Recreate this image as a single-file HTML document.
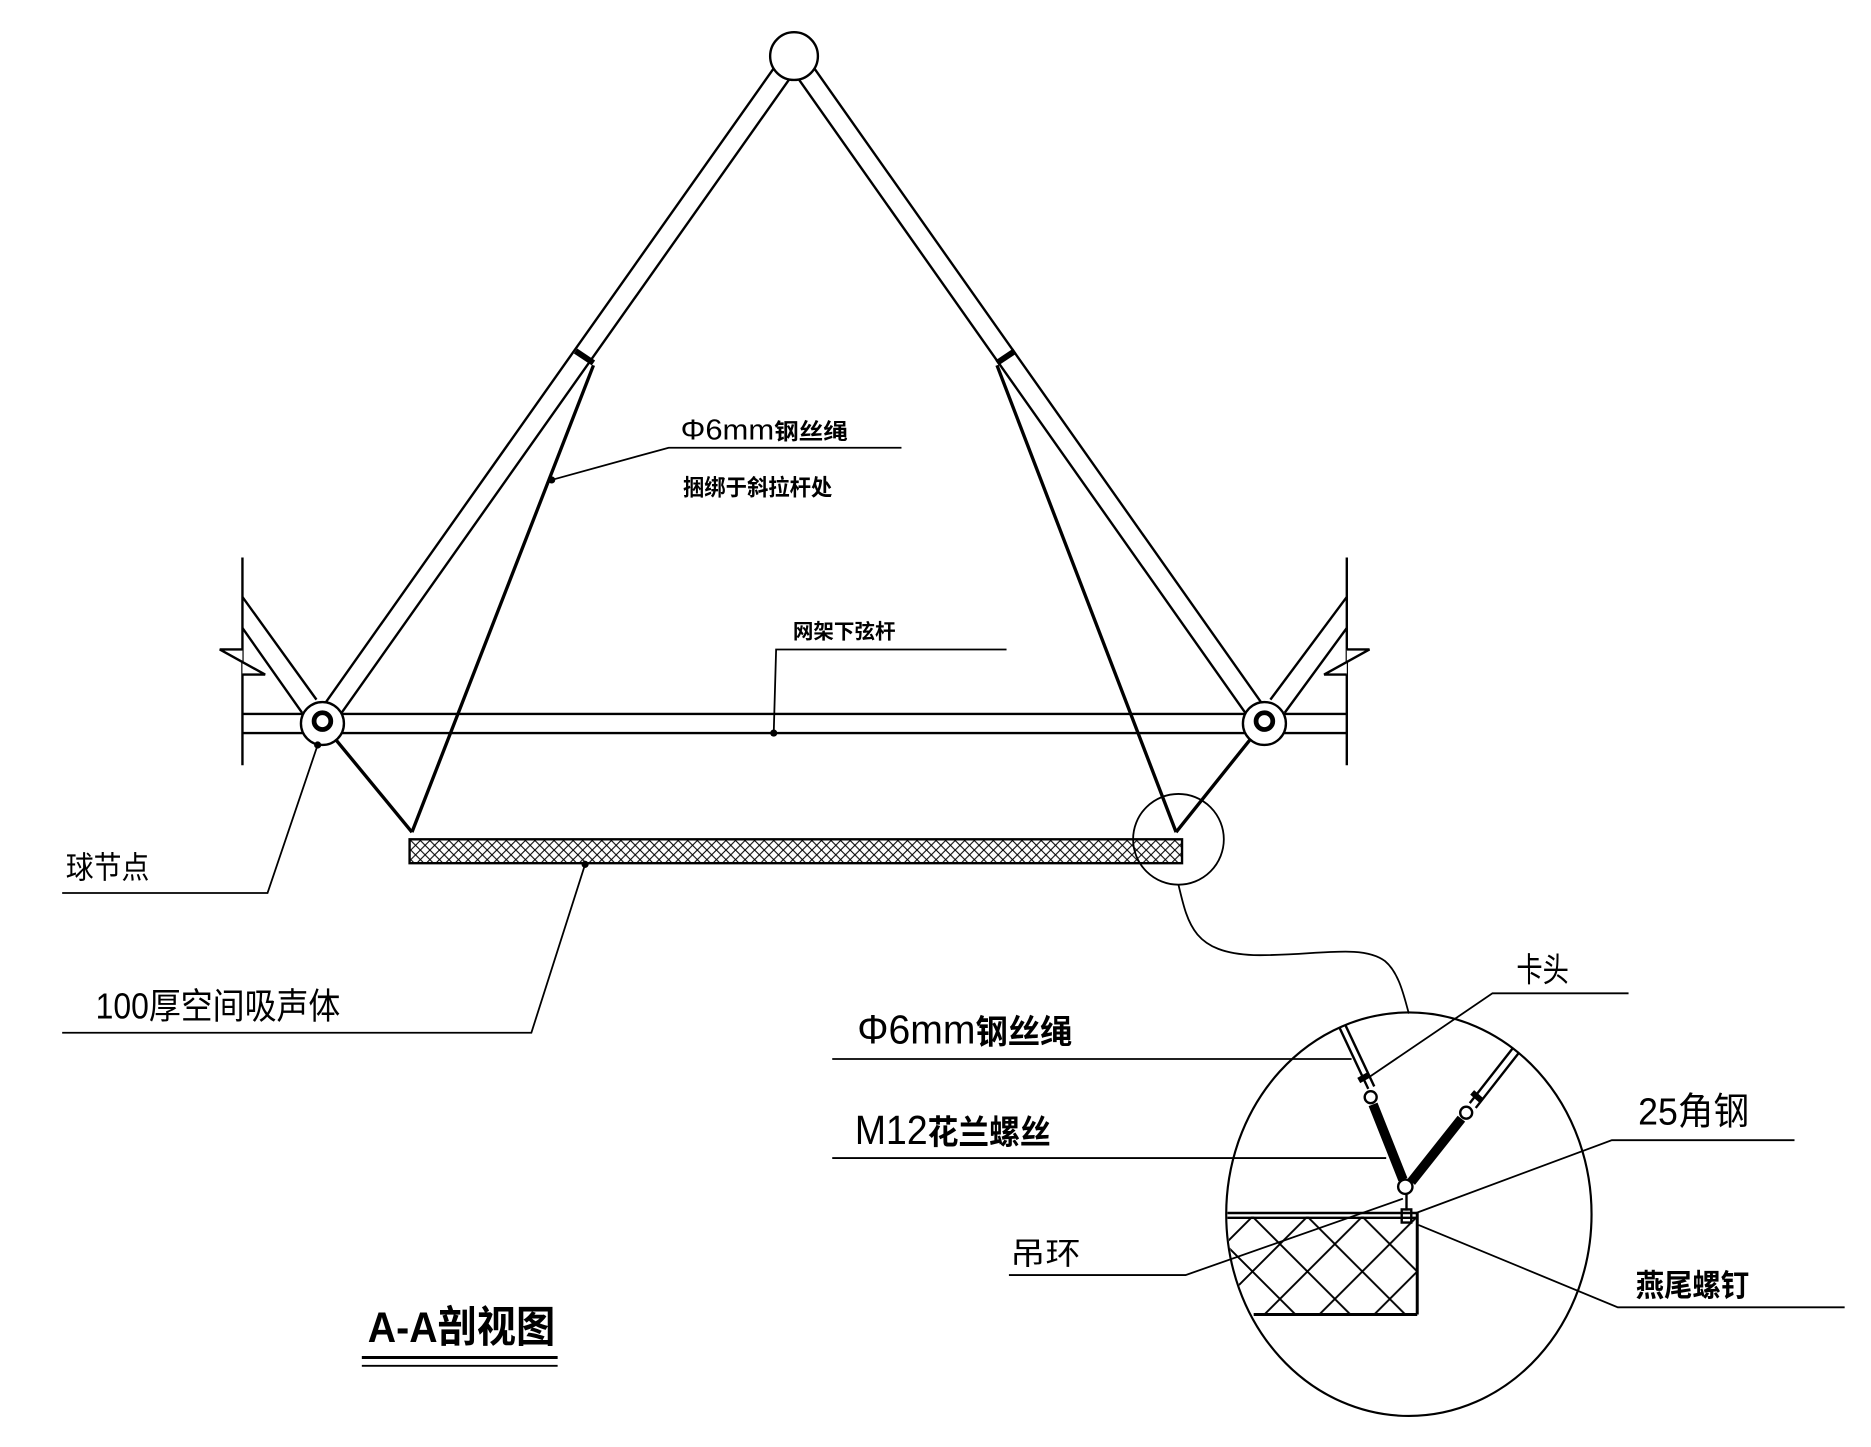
<!DOCTYPE html>
<html><head><meta charset="utf-8"><style>
html,body{margin:0;padding:0;background:#fff;}
svg{display:block;}
text{font-family:"Liberation Sans","Noto Sans CJK SC",sans-serif;fill:#000;}
</style></head><body>
<svg width="1871" height="1447" viewBox="0 0 1567 1212" xmlns="http://www.w3.org/2000/svg">
<defs>
<pattern id="hx" width="8" height="8" patternUnits="userSpaceOnUse">
<path d="M0,0 L8,8 M8,0 L0,8" stroke="#000" stroke-width="0.9"/>
</pattern>
<pattern id="hx2" x="1187" y="1019" width="46" height="46" patternUnits="userSpaceOnUse">
<path d="M0,0 L46,46 M46,0 L0,46" stroke="#000" stroke-width="1.6"/>
</pattern>
<clipPath id="ell"><ellipse cx="1180" cy="1017" rx="152" ry="168"/></clipPath>
</defs>
<g stroke="#000" fill="none" stroke-width="2">
<line x1="203" y1="467" x2="203" y2="641"/>
<polyline points="203,544 184,544 222,565 203,565" fill="#fff"/>
<line x1="1128" y1="467" x2="1128" y2="641"/>
<polyline points="1128,544 1147,544 1109,565 1128,565" fill="#fff"/>
<line x1="203" y1="500" x2="265" y2="586"/>
<line x1="203" y1="526" x2="253" y2="597"/>
<line x1="1128" y1="500" x2="1064" y2="586"/>
<line x1="1128" y1="526" x2="1076" y2="597"/>
<line x1="203" y1="598" x2="1128" y2="598"/>
<line x1="203" y1="614" x2="1128" y2="614"/>
<line x1="671.5" y1="51.6" x2="276.5" y2="610.6"/>
<line x1="658.5" y1="42.4" x2="263.5" y2="601.4"/>
<line x1="658.5" y1="51.6" x2="1052.5" y2="610.6"/>
<line x1="671.5" y1="42.4" x2="1065.5" y2="601.4"/>
<line x1="482" y1="294" x2="497" y2="304" stroke-width="5"/>
<line x1="850" y1="294" x2="835" y2="304" stroke-width="5"/>
<g stroke-width="2.8">
<line x1="275" y1="612" x2="345" y2="697"/>
<line x1="497" y1="306" x2="345" y2="697"/>
<line x1="1053" y1="612" x2="985" y2="697"/>
<line x1="835" y1="306" x2="985" y2="697"/>
</g>
<circle cx="665" cy="47" r="20" fill="#fff"/>
<circle cx="270" cy="606" r="18" fill="#fff"/>
<circle cx="270" cy="604" r="7" stroke-width="4"/>
<circle cx="1059" cy="606" r="18" fill="#fff"/>
<circle cx="1059" cy="604" r="7" stroke-width="4"/>
<rect x="343" y="703" width="647" height="20" fill="url(#hx)"/>
<g stroke-width="1.5">
<polyline points="462,402 560,375 755,375"/>
<polyline points="648,614 650,544 843,544"/>
<polyline points="490,724 445,865 52,865"/>
<polyline points="266,624 224,748 52,748"/>
</g>
<circle cx="987" cy="703" r="38" stroke-width="1.5"/>
<path d="M987,741 C995,775 1000,798 1050,800 C1100,801 1140,790 1160,805 C1172,815 1176,835 1180,849" stroke-width="1.5"/>
<ellipse cx="1180" cy="1017" rx="153" ry="169" stroke-width="1.8"/>
<g clip-path="url(#ell)">
<rect x="1020" y="1019" width="167" height="82" fill="url(#hx2)" stroke="none"/>
<line x1="1020" y1="1016" x2="1187" y2="1016"/>
<line x1="1020" y1="1020" x2="1187" y2="1020"/>
<line x1="1187" y1="1016" x2="1187" y2="1101" stroke-width="2.5"/>
<line x1="1050" y1="1101" x2="1187" y2="1101" stroke-width="2.5"/>
</g>
<line x1="1122" y1="861" x2="1146" y2="912" stroke-width="2"/>
<line x1="1127" y1="859" x2="1151" y2="910" stroke-width="2"/>
<line x1="1267" y1="878" x2="1231" y2="924" stroke-width="2"/>
<line x1="1272" y1="882" x2="1236" y2="928" stroke-width="2"/>
<line x1="1138" y1="905" x2="1147" y2="900" stroke-width="5"/>
<line x1="1233" y1="915" x2="1241" y2="922" stroke-width="5"/>
<circle cx="1148" cy="919" r="5"/>
<circle cx="1228" cy="932" r="5"/>
<line x1="1150" y1="925" x2="1175" y2="988" stroke-width="8"/>
<line x1="1224" y1="937" x2="1182" y2="990" stroke-width="8"/>
<circle cx="1177" cy="994" r="6" fill="#fff"/>
<line x1="1178" y1="1000" x2="1178" y2="1014"/>
<rect x="1174" y="1013" width="8" height="11" stroke-width="2"/>
<g stroke-width="1.5">
<polyline points="1147,902 1250,832 1364,832"/>
<polyline points="697,887 1132,887"/>
<polyline points="697,970 1161,970"/>
<polyline points="1186,1016 1350,955 1503,955"/>
<polyline points="1175,1004 993,1068 845,1068"/>
<polyline points="1188,1026 1355,1095 1545,1095"/>
<line x1="303" y1="1137" x2="467" y2="1137" stroke-width="2.5"/>
<line x1="303" y1="1144" x2="467" y2="1144"/>
</g>
</g>
<g fill="#000">
<circle cx="462" cy="402" r="3"/><circle cx="648" cy="614" r="3"/>
<circle cx="490" cy="724" r="3"/><circle cx="266" cy="624" r="3"/>
</g>
<text x="570" y="368" font-size="24" textLength="140" lengthAdjust="spacingAndGlyphs">Φ6mm<tspan font-weight="bold" font-size="19">钢丝绳</tspan></text>
<text x="572" y="415" font-size="19" font-weight="bold" textLength="125" lengthAdjust="spacingAndGlyphs">捆绑于斜拉杆处</text>
<text x="664" y="535" font-size="17" font-weight="bold" textLength="86" lengthAdjust="spacingAndGlyphs">网架下弦杆</text>
<text x="55" y="736" font-size="26" textLength="70" lengthAdjust="spacingAndGlyphs">球节点</text>
<text x="80" y="853" font-size="30" textLength="205" lengthAdjust="spacingAndGlyphs">100厚空间吸声体</text>
<text x="1270" y="822" font-size="28" textLength="44" lengthAdjust="spacingAndGlyphs">卡头</text>
<text x="718" y="874" font-size="34" textLength="180" lengthAdjust="spacingAndGlyphs">Φ6mm<tspan font-weight="bold" font-size="28">钢丝绳</tspan></text>
<text x="716" y="958" font-size="34" textLength="164" lengthAdjust="spacingAndGlyphs">M12<tspan font-weight="bold" font-size="28">花兰螺丝</tspan></text>
<text x="1372" y="942" font-size="32" textLength="93" lengthAdjust="spacingAndGlyphs">25角钢</text>
<text x="846" y="1059" font-size="26" textLength="59" lengthAdjust="spacingAndGlyphs">吊环</text>
<text x="1370" y="1086" font-size="26" font-weight="bold" textLength="95" lengthAdjust="spacingAndGlyphs">燕尾螺钉</text>
<text x="308" y="1124" font-size="36" font-weight="bold" textLength="157" lengthAdjust="spacingAndGlyphs">A-A剖视图</text>
</svg>
</body></html>
